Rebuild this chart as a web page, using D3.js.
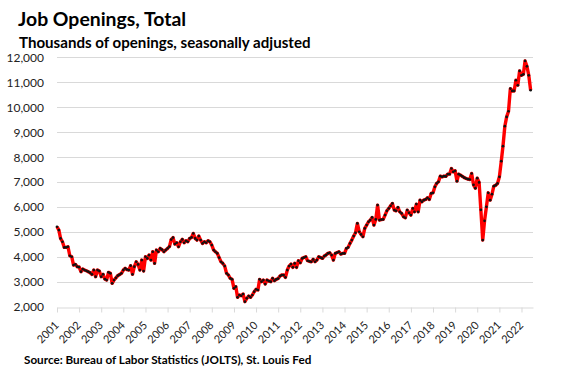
<!DOCTYPE html>
<html>
<head>
<meta charset="utf-8">
<script src="https://cdn.jsdelivr.net/npm/d3@7"></script>
<style>
  body { margin: 0; background: #fff; }
  svg { display: block; font-family: Lato, "Open Sans", sans-serif; }
  .axis text { fill: #222; font-size: 12px; }
</style>
</head>
<body>
<svg id="chart"></svg>
<script>
const title = "Job Openings, Total";
const subtitle = "Thousands of openings, seasonally adjusted";
const source = "Source: Bureau of Labor Statistics (JOLTS), St. Louis Fed";

// monthly values, Jan 2001 .. Jun 2022 (thousands)
const startYear = 2001;
const openings = [
  5213, 5080, 4747, 4613, 4387, 4387, 4413, 4053, 4013, 3680, 3707, 3613, // 2001
  3600, 3413, 3520, 3480, 3450, 3413, 3373, 3307, 3480, 3213, 3480, 3440, // 2002
  3213, 3307, 3120, 3080, 3387, 3347, 2947, 3080, 3170, 3253, 3300, 3347, // 2003
  3480, 3547, 3500, 3480, 3653, 3307, 3613, 3813, 3707, 3480, 3880, 3440, // 2004
  4013, 3947, 4080, 3880, 4213, 3747, 4280, 4213, 4347, 4300, 4213, 4280, // 2005
  4347, 4420, 4700, 4780, 4520, 4573, 4413, 4613, 4707, 4573, 4653, 4613, // 2006
  4747, 4787, 4947, 4747, 4680, 4840, 4680, 4547, 4613, 4573, 4653, 4613, // 2007
  4480, 4280, 4213, 4147, 3980, 3813, 3747, 3640, 3347, 3280, 3147, 3107, // 2008
  2747, 2813, 2387, 2480, 2450, 2520, 2213, 2347, 2440, 2387, 2480, 2613, // 2009
  2707, 2680, 3107, 3013, 3080, 2920, 3080, 3040, 3013, 3147, 3053, 3107, // 2010
  3140, 3240, 3280, 3280, 3187, 3480, 3640, 3720, 3587, 3747, 3587, 3853, // 2011
  3773, 3947, 3980, 4013, 3853, 3830, 3813, 3907, 3813, 3880, 4013, 3980, // 2012
  3947, 4040, 4080, 4147, 4173, 4080, 3880, 4147, 4180, 4213, 4120, 4147, // 2013
  4147, 4347, 4387, 4547, 4680, 4840, 4973, 5347, 5013, 4907, 4813, 5147, // 2014
  5280, 5413, 5480, 5587, 5280, 5507, 6080, 5480, 5500, 5507, 5680, 5853, // 2015
  5947, 6050, 6147, 5880, 5853, 5987, 5813, 5747, 5613, 5573, 5880, 5773, // 2016
  5680, 5947, 5813, 6120, 5813, 6280, 6213, 6280, 6307, 6373, 6307, 6547, // 2017
  6573, 6813, 6947, 7013, 7240, 7213, 7240, 7230, 7320, 7320, 7547, 7413, // 2018
  7453, 7040, 7320, 7280, 7230, 7180, 7147, 7120, 7107, 7347, 6893, 6760, // 2019
  7160, 6987, 5893, 4680, 5453, 6013, 6573, 6280, 6520, 6840, 6880, 6947, // 2020
  7213, 7840, 8440, 9240, 9613, 9840, 10747, 10653, 10653, 11080, 10880, 11453, // 2021
  11280, 11320, 11853, 11640, 11280, 10680 // 2022
];
const yearLabels = d3.range(2001, 2023);
const yTicks = d3.range(2000, 12001, 1000);

const width = 565;
const height = 374;
const margin = { top: 57.3, right: 32, bottom: 67, left: 57 };

const data = openings.map((v, i) => ({ date: new Date(startYear, i, 1), value: v }));

const svg = d3.select("#chart")
  .attr("width", width)
  .attr("height", height);

const x = d3.scaleTime()
  .domain([new Date(2001, 0, 1), new Date(2022, 6, 10)])
  .range([margin.left, width - margin.right]);

const y = d3.scaleLinear()
  .domain([2000, 12000])
  .range([height - margin.bottom, margin.top]);

// gridlines
svg.append("g")
  .selectAll("line")
  .data(yTicks.slice(1))
  .enter()
  .append("line")
    .attr("x1", margin.left)
    .attr("x2", width - margin.right)
    .attr("y1", d => Math.round(y(d)) + 0.5)
    .attr("y2", d => Math.round(y(d)) + 0.5)
    .attr("stroke", "#d9d9d9")
    .attr("stroke-width", 1);

// y axis labels
svg.append("g")
    .attr("class", "axis")
    .attr("transform", `translate(${margin.left}, 0)`)
  .call(d3.axisLeft(y)
    .tickValues(yTicks)
    .tickFormat(d3.format(","))
    .tickSize(0)
    .tickPadding(13))
  .call(g => g.select(".domain").remove())
  .selectAll("text")
    .style("font-family", "Lato, sans-serif");

// x axis
let xAxis = svg.append("g")
    .attr("class", "axis")
    .attr("transform", `translate(0, ${Math.round(y(2000)) + 0.5})`)
  .call(d3.axisBottom(x)
    .tickValues(yearLabels.map(yr => new Date(yr, 0, 1)))
    .tickFormat(d3.timeFormat("%Y"))
    .tickSize(5)
    .tickSizeOuter(0));

xAxis.select(".domain").attr("stroke", "#d9d9d9");
xAxis.selectAll(".tick line").attr("stroke", "#d9d9d9");
xAxis.selectAll(".tick text")
    .attr("text-anchor", "end")
    .attr("y", 0)
    .attr("dy", 0)
    .attr("transform", "translate(2, 18.5) rotate(-45)")
    .style("font-family", "Lato, sans-serif")
    .style("font-size", "11px");

// line + markers
let line = d3.line()
  .x(d => x(d.date))
  .y(d => y(d.value));

svg.append("path")
  .datum(data)
  .attr("d", line)
  .attr("fill", "none")
  .attr("stroke", "#ff0000")
  .attr("stroke-width", 3.4)
  .attr("stroke-linejoin", "round");

svg.append("g")
  .selectAll("circle")
  .data(data)
  .enter()
  .append("circle")
    .attr("cx", d => x(d.date))
    .attr("cy", d => y(d.value))
    .attr("r", 1.35)
    .attr("fill", "#111");

// titles
svg.append("text")
    .attr("x", 18)
    .attr("y", 26)
    .style("font-weight", "700")
    .style("font-size", "19.4px")
    .text(title);

svg.append("text")
    .attr("x", 19)
    .attr("y", 47.5)
    .style("font-weight", "700")
    .style("font-size", "15.1px")
    .text(subtitle);

svg.append("text")
    .attr("x", 24)
    .attr("y", 364)
    .style("font-weight", "700")
    .style("font-size", "11.7px")
    .text(source);
</script>
</body>
</html>
